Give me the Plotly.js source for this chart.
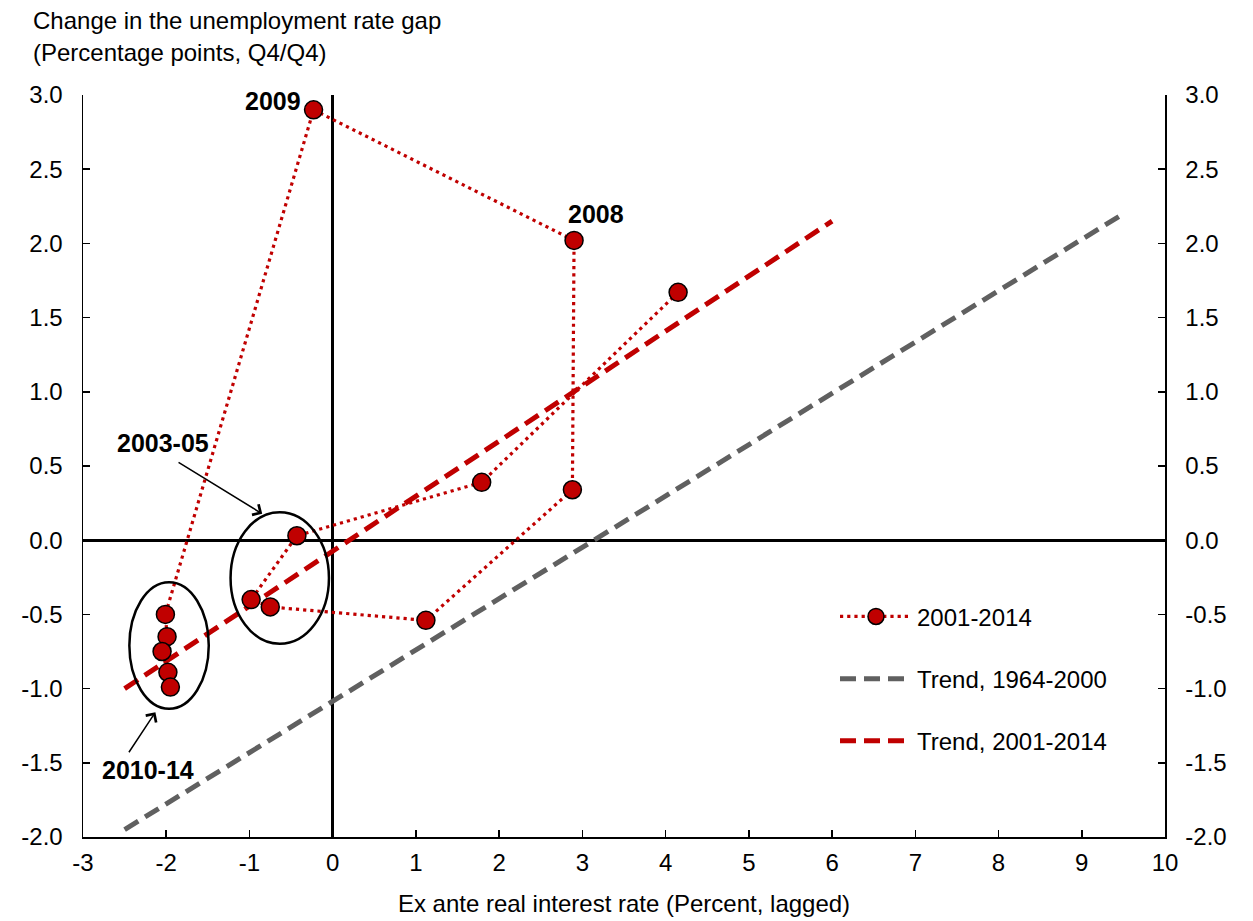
<!DOCTYPE html>
<html>
<head>
<meta charset="utf-8">
<script src="https://cdn.plot.ly/plotly-3.0.1.min.js"></script>
<style>html,body{margin:0;padding:0;background:#fff;}#chart{width:1253px;height:921px;}</style>
</head>
<body>
<div id="chart"></div>
<script>
// ---- data ----
const years = [2001, 2002, 2003, 2004, 2005, 2006, 2007, 2008, 2009, 2010, 2011, 2012, 2013, 2014];
const realRate = [4.15, 1.79, -0.43, -0.98, -0.75, 1.12, 2.88, 2.90, -0.23, -2.01, -1.99, -2.05, -1.98, -1.95];
const gapChange = [1.67, 0.39, 0.03, -0.40, -0.45, -0.54, 0.34, 2.02, 2.90, -0.50, -0.65, -0.75, -0.89, -0.99];

const trendOldX = [-2.5, 9.5];
const trendOldY = [-1.95, 2.20];
const trendNewX = [-2.5, 6.0];
const trendNewY = [-1.0, 2.15];

const xTickVals = [-3, -2, -1, 0, 1, 2, 3, 4, 5, 6, 7, 8, 9, 10];
const xTickLabels = ['-3', '-2', '-1', '0', '1', '2', '3', '4', '5', '6', '7', '8', '9', '10'];
const yTickVals = [3.0, 2.5, 2.0, 1.5, 1.0, 0.5, 0.0, -0.5, -1.0, -1.5, -2.0];
const yTickLabels = ['3.0', '2.5', '2.0', '1.5', '1.0', '0.5', '0.0', '-0.5', '-1.0', '-1.5', '-2.0'];

const seriesNames = ['2001-2014', 'Trend, 1964-2000', 'Trend, 2001-2014'];

// ---- styling ----
const FONT = 'Liberation Sans, Arial, sans-serif';
const FS = 24;
const RED = '#C00000';
const GRAY = '#606060';

const traces = [
  {
    x: trendOldX, y: trendOldY, type: 'scatter', mode: 'lines',
    name: seriesNames[1], legendgroup: 'b', legendrank: 2,
    line: {color: GRAY, width: 5, dash: '16px,8px'},
    hoverinfo: 'skip'
  },
  {
    x: trendNewX, y: trendNewY, type: 'scatter', mode: 'lines',
    name: seriesNames[2], legendgroup: 'c', legendrank: 3,
    line: {color: RED, width: 5, dash: '16px,8px'},
    hoverinfo: 'skip'
  },
  {
    x: realRate, y: gapChange, text: years.map(String), type: 'scatter', mode: 'lines+markers',
    name: seriesNames[0], legendgroup: 'a', legendrank: 1,
    line: {color: RED, width: 3.2, dash: '3.2px,4px'},
    marker: {color: RED, size: 18, line: {color: '#000', width: 1.5}}
  },
  {
    x: [null], y: [null], yaxis: 'y2', type: 'scatter', mode: 'markers',
    showlegend: false, hoverinfo: 'skip'
  }
];

const axisCommon = {
  showgrid: false,
  showline: true, linecolor: '#000', linewidth: 1.5,
  ticks: 'inside', ticklen: 7, tickwidth: 1.5, tickcolor: '#000',
  tickfont: {family: FONT, size: FS, color: '#000'}
};

const layout = {
  width: 1253, height: 921,
  margin: {l: 83, r: 88, t: 95, b: 84, pad: 0},
  paper_bgcolor: '#fff', plot_bgcolor: '#fff',
  font: {family: FONT, size: FS, color: '#000'},
  showlegend: true,
  legend: {
    x: 0.695, y: 0.327, xanchor: 'left', yanchor: 'top',
    traceorder: 'grouped', tracegroupgap: 28,
    itemwidth: 72,
    bgcolor: 'rgba(0,0,0,0)',
    font: {family: FONT, size: FS, color: '#000'}
  },
  xaxis: Object.assign({}, axisCommon, {
    range: [-3, 10], tickmode: 'array', tickvals: xTickVals, ticktext: xTickLabels,
    zeroline: true, zerolinecolor: '#000', zerolinewidth: 3,
    ticklabelstandoff: 4,
    title: {text: 'Ex ante real interest rate (Percent, lagged)', font: {family: FONT, size: FS, color: '#000'}, standoff: 20}
  }),
  yaxis: Object.assign({}, axisCommon, {
    range: [-2, 3], tickmode: 'array', tickvals: yTickVals, ticktext: yTickLabels,
    zeroline: true, zerolinecolor: '#000', zerolinewidth: 3,
    ticklabelstandoff: 14
  }),
  yaxis2: Object.assign({}, axisCommon, {
    range: [-2, 3], tickmode: 'array', tickvals: yTickVals, ticktext: yTickLabels,
    overlaying: 'y', side: 'right', zeroline: false,
    ticklabelstandoff: 14
  }),
  shapes: [
    {type: 'circle', xref: 'x', yref: 'y', x0: -1.227, x1: -0.045, y0: -0.698, y1: 0.189,
     line: {color: '#000', width: 2.5}, fillcolor: 'rgba(0,0,0,0)', layer: 'above'},
    {type: 'circle', xref: 'x', yref: 'y', x0: -2.443, x1: -1.489, y0: -1.136, y1: -0.283,
     line: {color: '#000', width: 2.5}, fillcolor: 'rgba(0,0,0,0)', layer: 'above'}
  ],
  annotations: [
    {xref: 'paper', yref: 'paper', x: -0.0477, y: 1.1004, xanchor: 'left', yanchor: 'middle',
     text: 'Change in the unemployment rate gap', showarrow: false, font: {family: FONT, size: FS}},
    {xref: 'paper', yref: 'paper', x: -0.0477, y: 1.0573, xanchor: 'left', yanchor: 'middle',
     text: '(Percentage points, Q4/Q4)', showarrow: false, font: {family: FONT, size: FS}},
    {xref: 'x', yref: 'y', x: -0.715, y: 2.958, text: '<b>2009</b>', showarrow: false,
     xanchor: 'center', yanchor: 'middle', font: {family: FONT, size: 25}},
    {xref: 'x', yref: 'y', x: 3.165, y: 2.199, text: '<b>2008</b>', showarrow: false,
     xanchor: 'center', yanchor: 'middle', font: {family: FONT, size: 25}},
    {xref: 'x', yref: 'y', x: -2.042, y: 0.652, text: '<b>2003-05</b>', showarrow: false,
     xanchor: 'center', yanchor: 'middle', font: {family: FONT, size: 25}},
    {xref: 'x', yref: 'y', x: -2.216, y: -1.549, text: '<b>2010-14</b>', showarrow: false,
     xanchor: 'center', yanchor: 'middle', font: {family: FONT, size: 25}},
    {xref: 'x', yref: 'y', x: -0.847, y: 0.178, axref: 'x', ayref: 'y', ax: -1.87, ay: 0.530,
     text: '', showarrow: true, arrowhead: 4, arrowsize: 1.6, arrowwidth: 1.5, arrowcolor: '#000', standoff: 0},
    {xref: 'x', yref: 'y', x: -2.13, y: -1.159, axref: 'x', ayref: 'y', ax: -2.46, ay: -1.439,
     text: '', showarrow: true, arrowhead: 4, arrowsize: 1.6, arrowwidth: 1.5, arrowcolor: '#000', standoff: 0}
  ]
};

Plotly.newPlot('chart', traces, layout, {displayModeBar: false, staticPlot: true});
</script>
</body>
</html>
